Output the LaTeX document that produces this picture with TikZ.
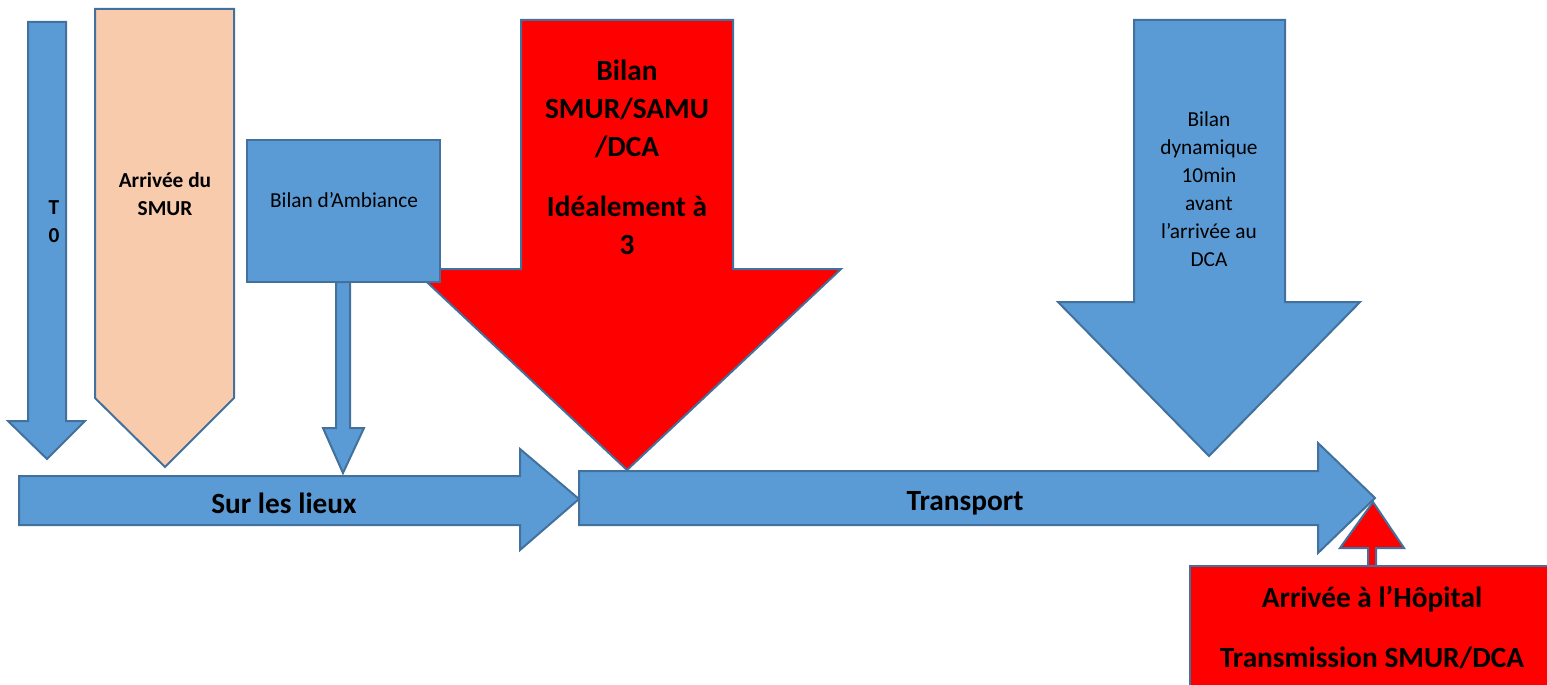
\documentclass[tikz,border=0pt]{standalone}
\usepackage{fontspec}
\setmainfont{Carlito}
\usepackage{tikz}
\definecolor{blueFill}{HTML}{5B9BD5}
\definecolor{blueLine}{HTML}{41719C}
\definecolor{peachFill}{HTML}{F8CBAD}
\tikzset{
  blockarrow/.style={draw=blueLine, line width=1.5pt, line join=miter},
  bigtext/.style={font=\bfseries\fontsize{22}{28.5}\selectfont, align=center},
  smalltext/.style={font=\fontsize{16}{21}\selectfont, align=center},
  smallbold/.style={font=\bfseries\fontsize{16}{21}\selectfont, align=center},
}

\begin{document}
\begin{tikzpicture}[x=0.75pt,y=0.75pt,yscale=-1,xscale=1]
\useasboundingbox (0,0) rectangle (1547,685);
%Down Arrow T0
\draw [blockarrow, fill=blueFill] (28,22) -- (66,22) -- (66,421) -- (85,421) -- (47,459) -- (8,421) -- (28,421) -- cycle ;
%Pentagon
\draw [blockarrow, fill=peachFill] (95,9) -- (234,9) -- (234,398) -- (165,467) -- (95,398) -- cycle ;
%Down Arrow (red)
\draw [blockarrow, fill=red] (521,20) -- (733,20) -- (733,269) -- (841,269) -- (627,470) -- (413,269) -- (521,269) -- cycle ;
%Rect
\draw [blockarrow, fill=blueFill] (247,140) rectangle (440,282) ;
%Down Arrow
\draw [blockarrow, fill=blueFill] (336,282) -- (350,282) -- (350,428) -- (364,428) -- (343,473) -- (323,428) -- (336,428) -- cycle ;
%Down Arrow
\draw [blockarrow, fill=blueFill] (1134,20) -- (1285,20) -- (1285,302) -- (1360,302) -- (1209,456) -- (1058,302) -- (1134,302) -- cycle ;
%Right Arrow
\draw [blockarrow, fill=blueFill] (19,476) -- (520,476) -- (520,449) -- (579,499) -- (520,550) -- (520,525) -- (19,525) -- cycle ;
%Right Arrow
\draw [blockarrow, fill=blueFill] (579,471) -- (1318,471) -- (1318,443) -- (1375,498) -- (1318,553) -- (1318,525) -- (579,525) -- cycle ;
%Up Arrow (red)
\draw [blockarrow, fill=red] (1368,570) -- (1368,548) -- (1340,548) -- (1373,502) -- (1404,548) -- (1376,548) -- (1376,570) -- cycle ;
%Rect (red)
\draw [blockarrow, fill=red] (1190,566) rectangle (1552,690) ;
%Labels
\node [smallbold] (tzero) at (54,222) {T\\0};
\node [smallbold] (arrsmur) at (165,194) {Arrivée du\\SMUR};
\node [smalltext] (ambiance) at (344,200) {Bilan d’Ambiance};
\node [bigtext] (bilansmur) at (627,157) {Bilan\\SMUR/SAMU\\/DCA\\[16.5pt]Idéalement à\\3};
\node [smalltext] (dynamique) at (1209,189) {Bilan\\dynamique\\10min\\avant\\l’arrivée au\\DCA};
\node [bigtext] (lieux) at (284,503) {Sur les lieux};
\node [bigtext] (transport) at (965,503) {Transport};
\node [bigtext] (hopital) at (1372,627) {Arrivée à l’Hôpital\\[16.5pt]Transmission SMUR/DCA};
\end{tikzpicture}
\end{document}
